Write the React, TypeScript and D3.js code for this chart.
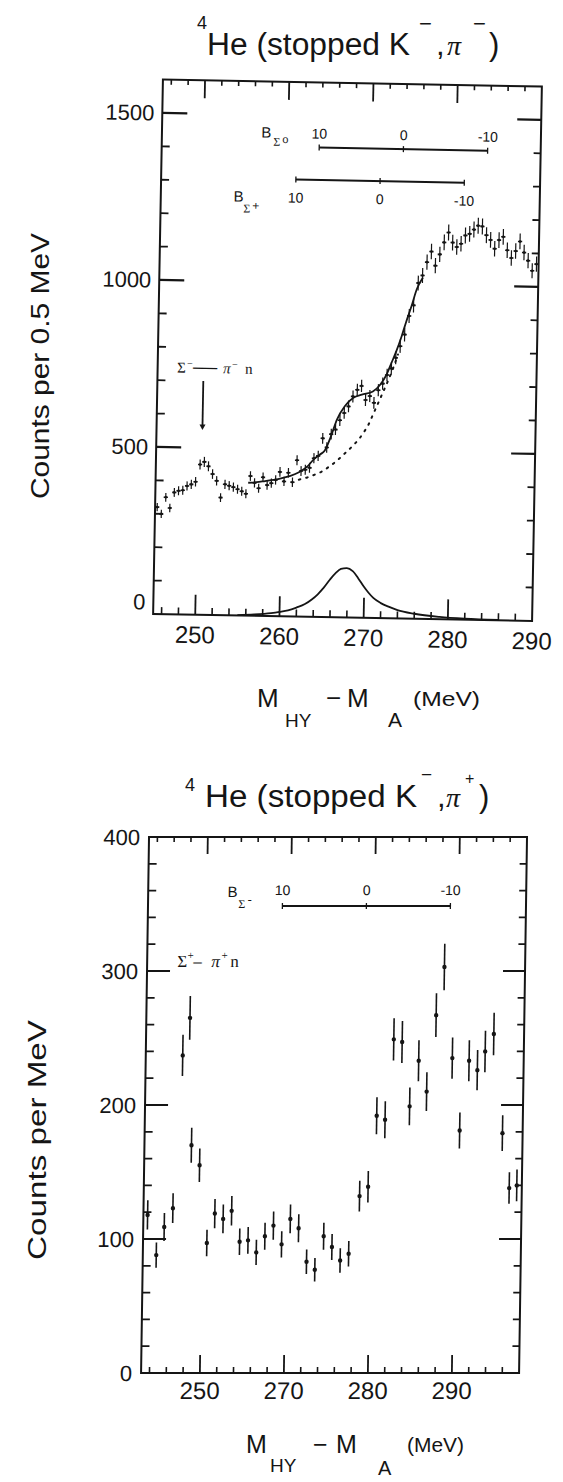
import React from "react";
import * as d3 from "d3";

// ---------------- TOP PANEL: 4He(stopped K-, pi-) ----------------
const topMass = [
  245.25, 245.75, 246.25, 246.75, 247.25, 247.75, 248.25, 248.75, 249.25, 249.75,
  250.25, 250.75, 251.25, 251.75, 252.25, 252.75, 253.25, 253.75, 254.25, 254.75,
  255.25, 255.75, 256.25, 256.75, 257.25, 257.75, 258.25, 258.75, 259.25, 259.75,
  260.25, 260.75, 261.25, 261.75, 262.25, 262.75, 263.25, 263.75, 264.25, 264.75,
  265.25, 265.75, 266.25, 266.75, 267.25, 267.75, 268.25, 268.75, 269.25, 269.75,
  270.25, 270.75, 271.25, 271.75, 272.25, 272.75, 273.25, 273.75, 274.25, 274.75,
  275.25, 275.75, 276.25, 276.75, 277.25, 277.75, 278.25, 278.75, 279.25, 279.75,
  280.25, 280.75, 281.25, 281.75, 282.25, 282.75, 283.25, 283.75, 284.25, 284.75,
  285.25, 285.75, 286.25, 286.75, 287.25, 287.75, 288.25, 288.75, 289.25, 289.75,
];
const topCounts = [
  320, 300, 350, 318, 365, 370, 372, 385, 390, 398,
  450, 458, 445, 422, 402, 352, 392, 388, 384, 378,
  372, 365, 418, 398, 382, 415, 392, 398, 408, 432,
  404, 430, 402, 468, 436, 440, 446, 475, 482, 535,
  508, 548, 562, 590, 612, 632, 662, 682, 694, 652,
  664, 644, 682, 702, 728, 748, 780, 815, 850, 906,
  938, 1005, 1028, 1068, 1100, 1058, 1092, 1128, 1158, 1128,
  1115, 1125, 1150, 1155, 1168, 1180, 1178, 1152, 1138, 1112,
  1138, 1148, 1108, 1085, 1106, 1135, 1102, 1078, 1048, 1068,
];
// full fit (solid)
const topFitMass = [256, 257, 258, 259, 260, 261, 262, 263, 263.7, 264.5, 265, 265.7, 266.4, 267.3, 268.3, 269.3, 270.6, 271.5, 272.2, 272.8, 273.3, 273.9, 274.4, 275, 275.6, 276.3];
const topFitCounts = [398, 400, 404, 408, 414, 421, 432, 450, 471, 487, 498, 540, 592, 632, 658, 668, 678, 700, 730, 768, 800, 845, 888, 935, 987, 1022];
// background (dotted)
const topBgMass = [262, 263, 263.9, 264.6, 265.6, 266.4, 267.2, 268.4, 269.0, 269.6, 270.2, 270.6, 271.2, 271.8, 272.4, 273.0, 273.5];
const topBgCounts = [410, 417, 426, 434, 451, 467, 486, 516, 533, 555, 581, 605, 640, 676, 712, 752, 790];
// hypernucleus peak (solid, at baseline)
const topPeakMass = [255, 257, 259, 260, 261, 262, 263, 263.8, 264.5, 265.2, 265.9, 266.6, 267.2, 267.9, 268.6, 269.3, 269.9, 270.5, 271.1, 272, 273, 274, 276, 279, 282, 286];
const topPeakCounts = [1, 4, 9, 13, 18, 27, 38, 52, 68, 88, 112, 133, 145, 148, 139, 117, 95, 76, 60, 45, 34, 25, 15, 7, 3, 1];
const topXTicks = [250, 260, 270, 280, 290];
const topYTicks = [0, 500, 1000, 1500];

// ---------------- BOTTOM PANEL: 4He(stopped K-, pi+) ----------------
const botMass = [
  253.5, 254.6, 255.5, 256.5, 257.4, 258.2, 258.6, 259.6, 260.6, 261.5,
  262.5, 263.5, 264.5, 265.5, 266.5, 267.5, 268.5, 269.5, 270.5, 271.5,
  272.5, 273.5, 274.5, 275.5, 276.5, 277.5, 278.7, 279.7, 280.6, 281.6,
  282.5, 283.5, 284.5, 285.5, 286.5, 287.5, 288.4, 289.5, 290.5, 291.5,
  292.5, 293.4, 294.4, 295.6, 296.5, 297.4,
];
const botCounts = [
  118, 88, 109, 123, 237, 265, 170, 155, 97, 119,
  115, 121, 98, 99, 90, 102, 110, 96, 115, 108,
  83, 77, 102, 94, 84, 89, 132, 139, 192, 189,
  249, 247, 199, 233, 210, 267, 303, 235, 181, 233,
  226, 240, 253, 179, 138, 140,
];
const botXTicks = [260, 270, 280, 290];
const botXTickLabels = ["250", "270", "280", "290"];
const botYTicks = [0, 100, 200, 300, 400];

// binding-energy scales (B = 10, 0, -10 MeV)
const bScaleTicks = [10, 0, -10];

const SANS = "'Liberation Sans', Arial, Helvetica, sans-serif";
const SERIF = "'Liberation Serif', 'Times New Roman', serif";
const INK = "#151515";

export default function App() {
  // top panel scales (drawn unrotated, then rotated like the scan)
  const tx = d3.scaleLinear().domain([245, 290]).range([158, 537]);
  const ty = d3.scaleLinear().domain([0, 1600]).range([617.5, 83]);
  // bottom panel scales
  const bx = d3.scaleLinear().domain([253, 298]).range([149, 527]);
  const by = d3.scaleLinear().domain([0, 400]).range([1373, 837]);

  const topLine = (ms: number[], cs: number[]) =>
    d3.line<number>().x((_, i) => tx(ms[i])).y((_, i) => ty(cs[i])).curve(d3.curveMonotoneX)(ms) || "";

  const topXMinor = d3.range(246, 290, 2).filter((v) => v % 10 !== 0);
  const topXMajor = topXTicks.filter((v) => v < 290);
  const topYMinor = d3.range(100, 1600, 100).filter((v) => v % 500 !== 0);
  const topYMajor = topYTicks.filter((v) => v > 0);

  const botXMinor = d3.range(254, 298, 2).filter((v) => v % 10 !== 0);
  const botYMinor = d3.range(20, 400, 20).filter((v) => v % 100 !== 0);
  const botYMajor = botYTicks.filter((v) => v > 0 && v < 400);

  const [tl, tr] = tx.range();
  const [tb, tt] = ty.range();
  const [bl, br] = bx.range();
  const [bb, bt] = by.range();

  // binding energy bar helper
  const bBar = (
    xs: d3.ScaleLinear<number, number>,
    yPix: number,
    zeroMass: number,
    labelDy: number,
    key: string
  ) => {
    const x10 = xs(zeroMass - 10);
    const xm10 = xs(zeroMass + 10);
    return (
      <g key={key}>
        <line x1={x10} x2={xm10} y1={yPix} y2={yPix} stroke={INK} strokeWidth={2} />
        {bScaleTicks.map((b) => (
          <g key={b}>
            <line x1={xs(zeroMass - b)} x2={xs(zeroMass - b)} y1={yPix - 3} y2={yPix + 3} stroke={INK} strokeWidth={1.3} />
            <text x={xs(zeroMass - b)} y={yPix + labelDy} textAnchor="middle" fontFamily={SANS} fontSize={14} fill={INK}>
              {b < 0 ? "-" + Math.abs(b) : String(b)}
            </text>
          </g>
        ))}
      </g>
    );
  };

  const sigLabelX = tx(247.3);
  const sigLabelY = ty(724);
  const arrowX = tx(250.45);

  const spLabelX = bx(256.6);
  const spLabelY = by(303);

  return (
    <svg
      width={563}
      height={1482}
      viewBox="0 0 563 1482"
      style={{ position: "absolute", left: 0, top: 0, background: "#fff" }}
    >
      <rect width={563} height={1482} fill="#fff" />

      {/* ---------- TOP TITLE ---------- */}
      <g fill={INK} fontFamily={SANS}>
        <text x={197} y={29} fontSize={18}>4</text>
        <text x={207} y={55} fontSize={31} textLength={203} lengthAdjust="spacingAndGlyphs">He (stopped K</text>
        <text x={419} y={31} fontSize={22}>−</text>
        <text x={436} y={55} fontSize={31}>,</text>
        <text x={447} y={55} fontSize={28} fontFamily={SERIF} fontStyle="italic">π</text>
        <text x={473} y={31} fontSize={22}>−</text>
        <text x={489} y={55} fontSize={31}>)</text>
      </g>

      {/* ---------- TOP Y LABEL ---------- */}
      <text
        transform="translate(40,366) rotate(-90)"
        textAnchor="middle"
        dy="0.35em"
        fontFamily={SANS}
        fontSize={26}
        fill={INK}
        textLength={266}
        lengthAdjust="spacingAndGlyphs"
      >
        Counts per 0.5 MeV
      </text>

      {/* ---------- TOP PANEL ---------- */}
      <g transform="rotate(1.05 348 350)">
        <rect x={tl} y={tt} width={tr - tl} height={tb - tt} fill="none" stroke={INK} strokeWidth={2} />
        {/* x ticks bottom & top */}
        {topXMinor.map((v) => (
          <g key={"txm" + v}>
            <line x1={tx(v)} x2={tx(v)} y1={tb} y2={tb - 7} stroke={INK} strokeWidth={1.6} />
            <line x1={tx(v)} x2={tx(v)} y1={tt} y2={tt + 5} stroke={INK} strokeWidth={1.6} />
          </g>
        ))}
        {topXMajor.map((v) => (
          <g key={"txM" + v}>
            <line x1={tx(v)} x2={tx(v)} y1={tb} y2={tb - 20} stroke={INK} strokeWidth={1.8} />
            <line x1={tx(v)} x2={tx(v)} y1={tt} y2={tt + 18} stroke={INK} strokeWidth={1.8} />
          </g>
        ))}
        {/* y ticks left & right */}
        {topYMinor.map((v) => (
          <g key={"tym" + v}>
            <line x1={tl} x2={tl + 8} y1={ty(v)} y2={ty(v)} stroke={INK} strokeWidth={1.8} />
            <line x1={tr} x2={tr - 7} y1={ty(v)} y2={ty(v)} stroke={INK} strokeWidth={1.8} />
          </g>
        ))}
        {topYMajor.map((v) => (
          <g key={"tyM" + v}>
            <line x1={tl} x2={tl + 25} y1={ty(v)} y2={ty(v)} stroke={INK} strokeWidth={2.2} />
            <line x1={tr} x2={tr - 24} y1={ty(v)} y2={ty(v)} stroke={INK} strokeWidth={2.2} />
          </g>
        ))}
        {/* tick labels */}
        {topXTicks.map((v) => (
          <text key={"txl" + v} x={tx(v)} y={tb + 20} dy="0.35em" textAnchor="middle" fontFamily={SANS} fontSize={24} fill={INK}>
            {v}
          </text>
        ))}
        {topYTicks.map((v) => (
          <text key={"tyl" + v} x={tl - 8} y={ty(v) - (v === 0 ? 12 : 0)} dy="0.35em" textAnchor="end" fontFamily={SANS} fontSize={22} fill={INK}>
            {v}
          </text>
        ))}

        {/* binding energy scales */}
        {bBar(tx, ty(1405), 273.7, -9, "bs0")}
        {bBar(tx, ty(1308), 271.0, 23, "bsp")}
        <g fill={INK}>
          <text x={tx(263.7) - 58} y={ty(1405) - 9} fontFamily={SANS} fontSize={15}>B</text>
          <text x={tx(263.7) - 46} y={ty(1405) - 1} fontFamily={SERIF} fontSize={12}>Σ</text>
          <text x={tx(263.7) - 37} y={ty(1405) - 4} fontFamily={SANS} fontSize={11}>o</text>
          <text x={tx(261.0) - 62} y={ty(1308) + 23} fontFamily={SANS} fontSize={15}>B</text>
          <text x={tx(261.0) - 52} y={ty(1308) + 34} fontFamily={SERIF} fontSize={12}>Σ</text>
          <text x={tx(261.0) - 43} y={ty(1308) + 31} fontFamily={SANS} fontSize={12}>+</text>
        </g>

        {/* Sigma- -> pi- n label and arrow */}
        <g fill={INK} fontFamily={SERIF}>
          <text x={sigLabelX} y={sigLabelY} fontSize={15}>Σ</text>
          <text x={sigLabelX + 10} y={sigLabelY - 6} fontSize={10}>−</text>
          <text x={sigLabelX + 16} y={sigLabelY + 1} fontSize={24}>—</text>
          <text x={sigLabelX + 46} y={sigLabelY} fontSize={15} fontStyle="italic">π</text>
          <text x={sigLabelX + 55} y={sigLabelY - 6} fontSize={10}>−</text>
          <text x={sigLabelX + 68} y={sigLabelY} fontSize={15}>n</text>
        </g>
        <line x1={arrowX} x2={arrowX} y1={ty(700)} y2={ty(565)} stroke={INK} strokeWidth={1.8} />
        <path
          d={`M${arrowX - 3},${ty(570)} L${arrowX + 3},${ty(570)} L${arrowX},${ty(553)} Z`}
          fill={INK}
        />

        {/* curves */}
        <path d={topLine(topBgMass, topBgCounts)} fill="none" stroke={INK} strokeWidth={2} strokeDasharray="1.6 6" strokeLinecap="round" />
        <path d={topLine(topFitMass, topFitCounts)} fill="none" stroke={INK} strokeWidth={1.8} />
        <path d={topLine(topPeakMass, topPeakCounts)} fill="none" stroke={INK} strokeWidth={1.8} />

        {/* data points */}
        {topMass.map((m, i) => {
          const c = topCounts[i];
          if (c === undefined) return null;
          const e = 0.7 * Math.sqrt(c);
          return (
            <g key={"tp" + i}>
              <line x1={tx(m)} x2={tx(m)} y1={ty(c - e)} y2={ty(c + e)} stroke={INK} strokeWidth={1.2} />
              <line x1={tx(m - 0.25)} x2={tx(m + 0.25)} y1={ty(c)} y2={ty(c)} stroke={INK} strokeWidth={1.6} />
              <circle cx={tx(m)} cy={ty(c)} r={1.3} fill={INK} />
            </g>
          );
        })}
      </g>

      {/* ---------- TOP X LABEL ---------- */}
      <g fill={INK} fontFamily={SANS}>
        <text x={257} y={707} fontSize={26}>M</text>
        <text x={285} y={727} fontSize={19}>HY</text>
        <text x={326} y={707} fontSize={26}>−</text>
        <text x={347} y={707} fontSize={26}>M</text>
        <text x={388} y={727} fontSize={21}>A</text>
        <text x={413} y={706} fontSize={21} textLength={67} lengthAdjust="spacingAndGlyphs">(MeV)</text>
      </g>

      {/* ---------- BOTTOM TITLE ---------- */}
      <g fill={INK} fontFamily={SANS}>
        <text x={185} y={791} fontSize={18}>4</text>
        <text x={205} y={807} fontSize={31} textLength={212} lengthAdjust="spacingAndGlyphs">He (stopped K</text>
        <text x={421} y={781} fontSize={19}>−</text>
        <text x={437} y={807} fontSize={31}>,</text>
        <text x={446} y={807} fontSize={28} fontFamily={SERIF} fontStyle="italic">π</text>
        <text x={465} y={784} fontSize={16}>+</text>
        <text x={479} y={807} fontSize={31}>)</text>
      </g>

      {/* ---------- BOTTOM Y LABEL ---------- */}
      <text
        transform="translate(37,1140) rotate(-90)"
        textAnchor="middle"
        dy="0.35em"
        fontFamily={SANS}
        fontSize={26}
        fill={INK}
        textLength={240}
        lengthAdjust="spacingAndGlyphs"
      >
        Counts per MeV
      </text>

      {/* ---------- BOTTOM PANEL ---------- */}
      <g transform="translate(0 838) skewX(-0.85) translate(0 -838)">
        <rect x={bl} y={bt} width={br - bl} height={bb - bt} fill="none" stroke={INK} strokeWidth={2} />
        {botXMinor.map((v) => (
          <g key={"bxm" + v}>
            <line x1={bx(v)} x2={bx(v)} y1={bb} y2={bb - 6} stroke={INK} strokeWidth={1.6} />
            <line x1={bx(v)} x2={bx(v)} y1={bt} y2={bt + 5} stroke={INK} strokeWidth={1.6} />
          </g>
        ))}
        {botXTicks.map((v) => (
          <g key={"bxM" + v}>
            <line x1={bx(v)} x2={bx(v)} y1={bb} y2={bb - 18} stroke={INK} strokeWidth={1.8} />
            <line x1={bx(v)} x2={bx(v)} y1={bt} y2={bt + 17} stroke={INK} strokeWidth={1.8} />
          </g>
        ))}
        {botYMinor.map((v) => (
          <g key={"bym" + v}>
            <line x1={bl} x2={bl + 8} y1={by(v)} y2={by(v)} stroke={INK} strokeWidth={1.8} />
            <line x1={br} x2={br - 7} y1={by(v)} y2={by(v)} stroke={INK} strokeWidth={1.8} />
          </g>
        ))}
        {botYMajor.map((v) => (
          <g key={"byM" + v}>
            <line x1={bl} x2={bl + 23} y1={by(v)} y2={by(v)} stroke={INK} strokeWidth={2.2} />
            <line x1={br} x2={br - 22} y1={by(v)} y2={by(v)} stroke={INK} strokeWidth={2.2} />
          </g>
        ))}
        {botXTicks.map((v, i) => (
          <text key={"bxl" + v} x={bx(v)} y={bb + 18} dy="0.35em" textAnchor="middle" fontFamily={SANS} fontSize={24} fill={INK}>
            {botXTickLabels[i]}
          </text>
        ))}
        {botYTicks.map((v) => (
          <text key={"byl" + v} x={bl - 9} y={by(v)} dy="0.35em" textAnchor="end" fontFamily={SANS} fontSize={22} fill={INK}>
            {v}
          </text>
        ))}

        {/* binding energy scale */}
        {bBar(bx, by(348.5), 279.0, -11, "bsm")}
        <g fill={INK}>
          <text x={bx(269.0) - 55} y={by(348.5) - 9} fontFamily={SANS} fontSize={15}>B</text>
          <text x={bx(269.0) - 44} y={by(348.5) + 2} fontFamily={SERIF} fontSize={12}>Σ</text>
          <text x={bx(269.0) - 35} y={by(348.5) - 2} fontFamily={SANS} fontSize={13}>-</text>
        </g>

        {/* Sigma+ -> pi+ n label */}
        <g fill={INK} fontFamily={SERIF}>
          <text x={spLabelX} y={spLabelY} fontSize={17}>Σ</text>
          <text x={spLabelX + 10} y={spLabelY - 8} fontSize={11}>+</text>
          <text x={spLabelX + 16} y={spLabelY} fontSize={17}>–</text>
          <text x={spLabelX + 34} y={spLabelY} fontSize={17} fontStyle="italic">π</text>
          <text x={spLabelX + 44} y={spLabelY - 8} fontSize={11}>+</text>
          <text x={spLabelX + 53} y={spLabelY} fontSize={17}>n</text>
        </g>

        {/* data points */}
        {botMass.map((m, i) => {
          const c = botCounts[i];
          if (c === undefined) return null;
          const e = Math.sqrt(c);
          return (
            <g key={"bp" + i}>
              <line x1={bx(m)} x2={bx(m)} y1={by(c - e)} y2={by(c + e)} stroke={INK} strokeWidth={1.6} />
              <circle cx={bx(m)} cy={by(c)} r={2.2} fill={INK} />
            </g>
          );
        })}
      </g>

      {/* ---------- BOTTOM X LABEL ---------- */}
      <g fill={INK} fontFamily={SANS}>
        <text x={246} y={1453} fontSize={25}>M</text>
        <text x={270} y={1472} fontSize={19}>HY</text>
        <text x={313} y={1453} fontSize={25}>−</text>
        <text x={336} y={1453} fontSize={25}>M</text>
        <text x={378} y={1475} fontSize={20}>A</text>
        <text x={407} y={1452} fontSize={20} textLength={57} lengthAdjust="spacingAndGlyphs">(MeV)</text>
      </g>
    </svg>
  );
}
